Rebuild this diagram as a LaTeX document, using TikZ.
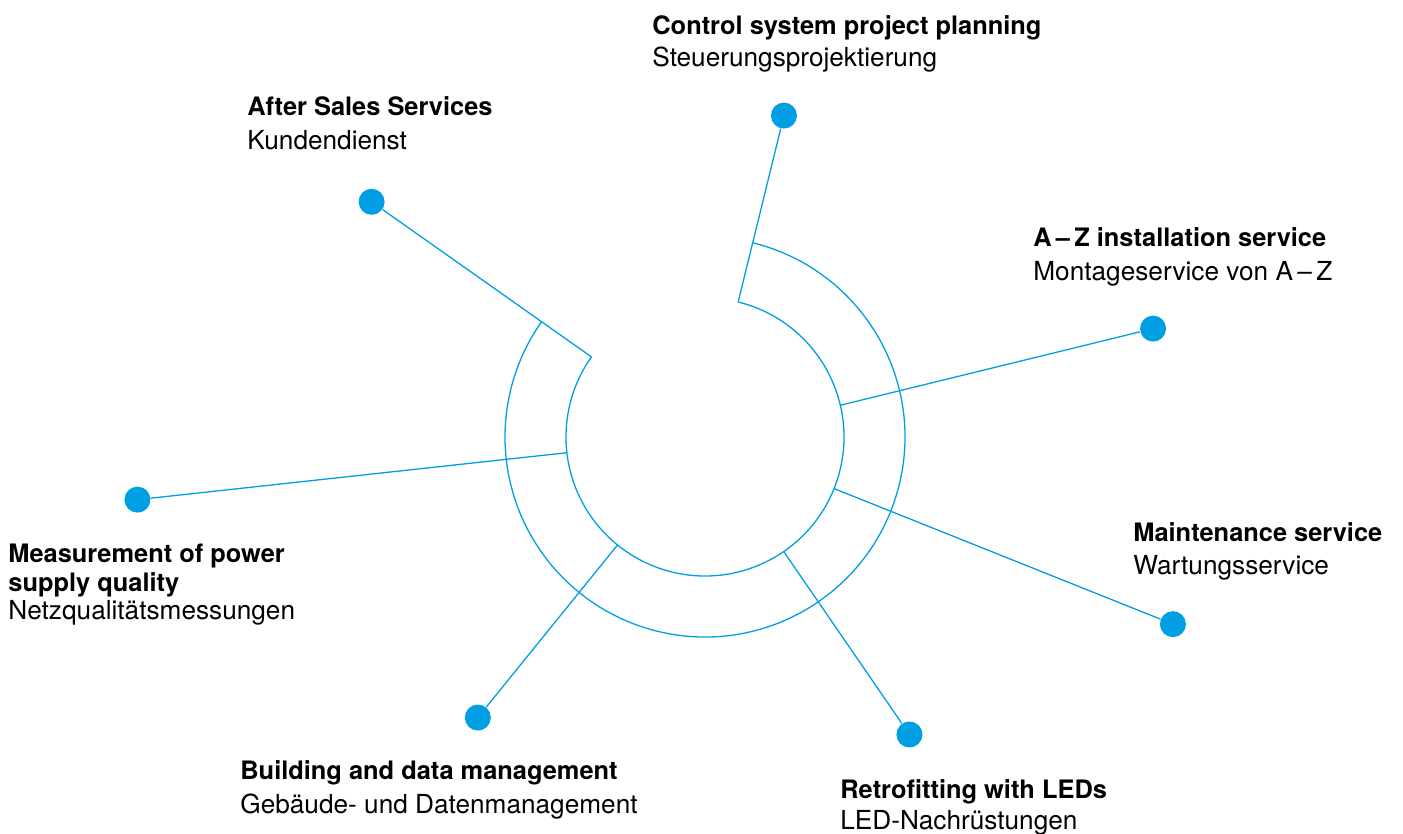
\documentclass[tikz,border=0pt]{standalone}
\usepackage{fontspec}
\setmainfont{TeX Gyre Heros}
\usepackage{tikz}
\definecolor{ringblue}{RGB}{0,159,227}

\tikzset{
	ring/.style={draw=ringblue, line width=0.65pt},
	dot/.style={circle, fill=ringblue, inner sep=0pt, minimum size=13pt},
	head/.style={anchor=base west, inner sep=0pt, font=\fontsize{12.7}{15}\selectfont\bfseries},
	sub/.style={anchor=base west, inner sep=0pt, font=\fontsize{13.1}{15}\selectfont}
}

\begin{document}
\begin{tikzpicture}[x=0.5pt,y=0.5pt]
	\useasboundingbox (-705,-397) rectangle (698,437);
	
	% the two arcs of the ring, open at the top
	\draw[ring] (76.2:200) arc[start angle=76.2, end angle=-215.2, radius=200];
	\draw[ring] (76.2:139) arc[start angle=76.2, end angle=-215.2, radius=139];
	
	% dots
	\node[dot] (ctrldot)  at (76.2:331)  {};
	\node[dot] (afterdot) at (144.8:408) {};
	\node[dot] (azdot)    at (13.6:461)  {};
	\node[dot] (measdot)  at (186.3:571) {};
	\node[dot] (maintdot) at (-21.8:504) {};
	\node[dot] (builddot) at (231:361)   {};
	\node[dot] (retrodot) at (-55.5:361) {};
	
	% start points on the inner arc
	\coordinate (ctrlin)  at (76.2:139);
	\coordinate (afterin) at (144.8:139);
	\coordinate (azin)    at (13.2:139);
	\coordinate (measin)  at (186.5:139);
	\coordinate (maintin) at (-21.8:139);
	\coordinate (buildin) at (231:139);
	\coordinate (retroin) at (-55.5:139);
	
	\draw[ring] (ctrlin)  -- (ctrldot);
	\draw[ring] (afterin) -- (afterdot);
	\draw[ring] (azin)    -- (azdot);
	\draw[ring] (measin)  -- (measdot);
	\draw[ring] (maintin) -- (maintdot);
	\draw[ring] (buildin) -- (builddot);
	\draw[ring] (retroin) -- (retrodot);
	
	% labels
	\node[head] (ctrl)     at (-53,402)   {Control system project planning};
	\node[sub]  (ctrlde)   at (-53,370)   {Steuerungsprojektierung};
	\node[head] (after)    at (-458,321)  {After Sales Services};
	\node[sub]  (afterde)  at (-458,287)  {Kundendienst};
	\node[head] (az)       at (328,190)   {A\,–\,Z installation service};
	\node[sub]  (azde)     at (328,156)   {Montageservice von A\,–\,Z};
	\node[head] (meas)     at (-697,-126) {Measurement of power};
	\node[head] (measb)    at (-697,-155) {supply quality};
	\node[sub]  (measde)   at (-697,-183) {Netzqualitätsmessungen};
	\node[head] (maint)    at (428,-105)  {Maintenance service};
	\node[sub]  (maintde)  at (428,-138)  {Wartungsservice};
	\node[head] (build)    at (-465,-343) {Building and data management};
	\node[sub]  (buildde)  at (-465,-376) {Gebäude- und Datenmanagement};
	\node[head] (retro)    at (135,-361)  {Retrofitting with LEDs};
	\node[sub]  (retrode)  at (135,-393)  {LED-Nachrüstungen};
\end{tikzpicture}
\end{document}
